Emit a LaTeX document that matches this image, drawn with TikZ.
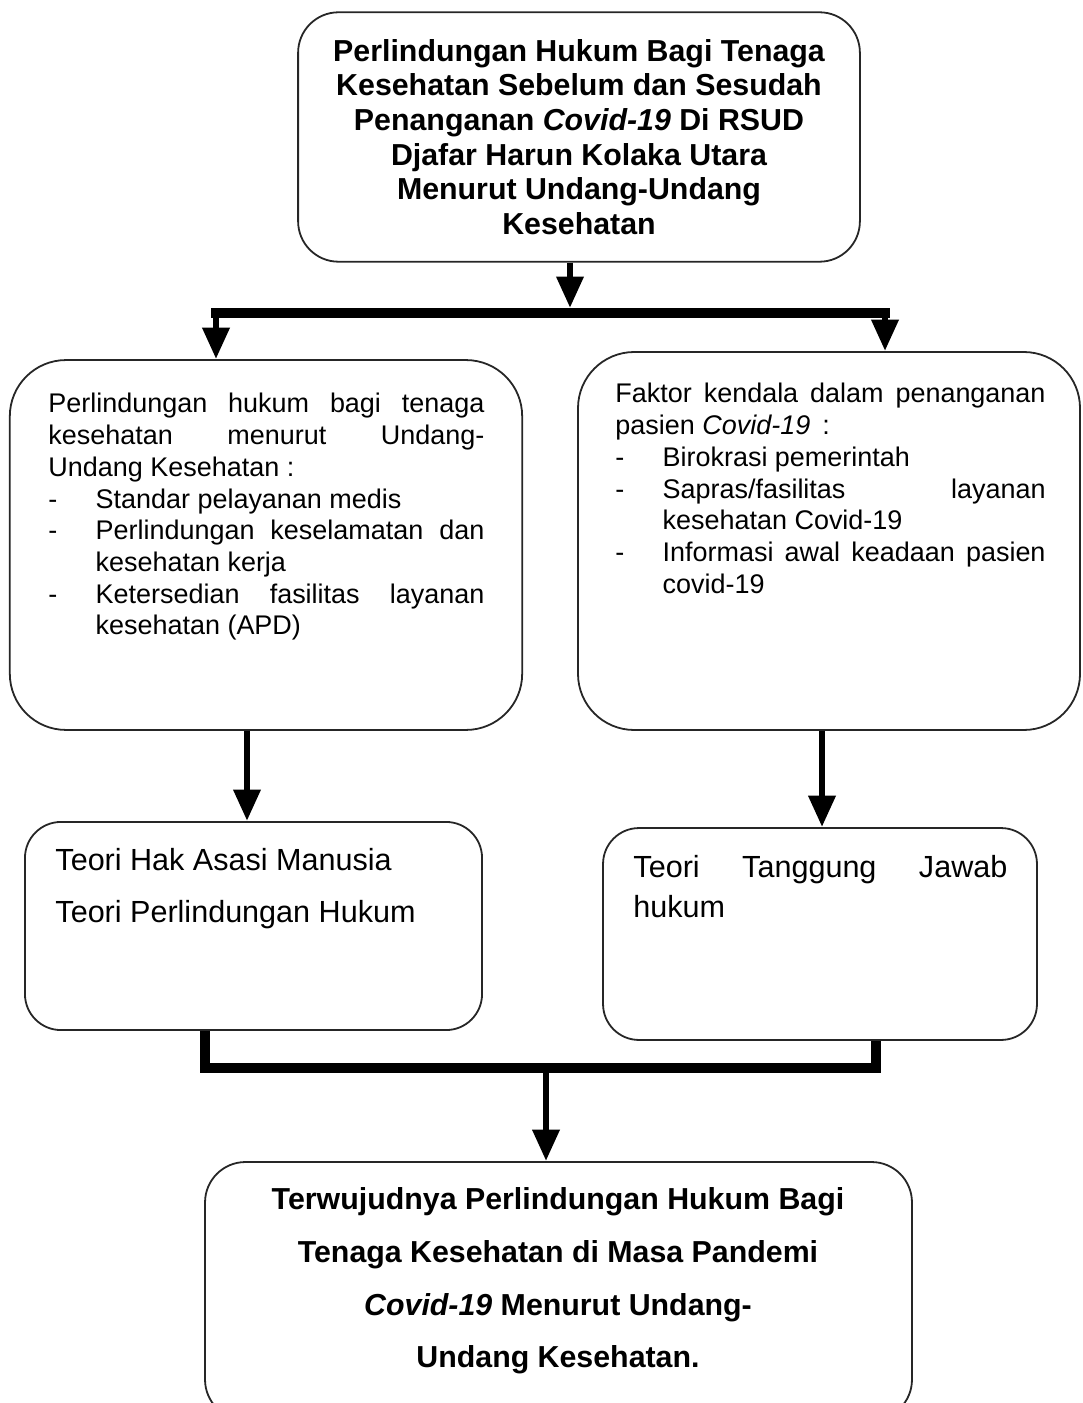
\documentclass[tikz,border=0pt]{standalone}
\usepackage{fontspec}
\setmainfont{Liberation Sans}
\usetikzlibrary{arrows.meta}
\hbadness=10000

\newcommand{\dashitem}[1]{\par\hangindent=21pt\hangafter=1\noindent\makebox[21pt][l]{-}#1\par}

\tikzset{
  box/.style={draw=black!85, line width=0.8pt, rounded corners=#1, inner sep=0pt},
  box/.default=18pt,
  bodytext/.style={inner sep=0pt, anchor=north west, align=justify,
    font=\fontsize{12pt}{14.1pt}\selectfont},
  bar/.style={line width=4.6pt, line cap=rect, line join=miter},
  flow/.style={line width=3.1pt, -{Triangle[length=14pt, width=11.5pt]}}
}

\begin{document}
\begin{tikzpicture}[x=0.445pt, y=-0.445pt]
    \useasboundingbox (0,0) rectangle (1082,1403);
    \clip (0,0) rectangle (1082,1403);

    % Boxes
    \node[box=18pt, minimum width=250pt, minimum height=111pt] (judul) at (579,137) {};
    \node[box=25pt, minimum width=228pt, minimum height=164.6pt] (hukum) at (266,545) {};
    \node[box=25pt, minimum width=223.4pt, minimum height=168.2pt] (kendala) at (829,541) {};
    \node[box=16pt, minimum width=203.4pt, minimum height=92.6pt] (teorikiri) at (253.5,926) {};
    \node[box=16pt, minimum width=193.1pt, minimum height=94.3pt] (teorikanan) at (820,934) {};
    \node[box=18pt, minimum width=314.6pt, minimum height=114.8pt] (hasil) at (558.5,1291) {};

    % Texts
    \node[inner sep=0pt, align=center, font=\bfseries\fontsize{13.5pt}{15.4pt}\selectfont] (judultxt) at (judul.center)
        {Perlindungan Hukum Bagi Tenaga\\Kesehatan Sebelum dan Sesudah\\
         Penanganan \textit{Covid-19} Di RSUD\\Djafar Harun Kolaka Utara\\
         Menurut Undang-Undang\\Kesehatan};

    \node[bodytext, text width=194pt] (hukumtxt) at (48,393)
        {\noindent Perlindungan hukum bagi tenaga\linebreak kesehatan menurut Undang-\linebreak Undang Kesehatan :
         \dashitem{Standar pelayanan medis}
         \dashitem{Perlindungan keselamatan dan\linebreak kesehatan kerja}
         \dashitem{Ketersedian fasilitas layanan\linebreak kesehatan (APD)}};

    \node[bodytext, text width=191.4pt] (kendalatxt) at (615,383)
        {\noindent Faktor kendala dalam penanganan\linebreak pasien \textit{Covid-19}\, :
         \dashitem{Birokrasi pemerintah}
         \dashitem{Sapras/fasilitas layanan\linebreak kesehatan Covid-19}
         \dashitem{Informasi awal keadaan pasien\linebreak covid-19}};

    \node[inner sep=0pt, anchor=north west, align=left, font=\fontsize{13.6pt}{23.2pt}\selectfont] (teorikiritxt) at (55,848)
        {Teori Hak Asasi Manusia\\Teori Perlindungan Hukum};

    \node[bodytext, text width=166.4pt, font=\fontsize{13.6pt}{17.8pt}\selectfont] (teorikanantxt) at (633,855)
        {\noindent Teori Tanggung Jawab\linebreak hukum\par};

    \node[inner sep=0pt, align=center, font=\bfseries\fontsize{13.5pt}{23.4pt}\selectfont] (hasiltxt) at (558,1281)
        {Terwujudnya Perlindungan Hukum Bagi\\Tenaga Kesehatan di Masa Pandemi\\
         \textit{Covid-19} Menurut Undang-\\Undang Kesehatan.};

    % Connectors
    \coordinate (pisah) at (570,313);
    \coordinate (pisahkiri) at (216,313);
    \coordinate (pisahkanan) at (885,313);
    \coordinate (kolomkiri) at (247,780);
    \coordinate (kolomkanan) at (822,780);
    \coordinate (gabungkiri) at (205,1068);
    \coordinate (gabungkanan) at (876,1068);
    \coordinate (gabung) at (546,1068);

    \draw[flow] (judul.south -| pisah) -- ([yshift=2.2pt]pisah);
    \draw[bar] (pisahkiri) -- (pisahkanan);
    \draw[flow] (pisahkiri) -- (pisahkiri |- hukum.north);
    \draw[flow] (pisahkanan) -- (pisahkanan |- kendala.north);

    \draw[flow] (hukum.south -| kolomkiri) -- (teorikiri.north -| kolomkiri);
    \draw[flow] (kendala.south -| kolomkanan) -- (teorikanan.north -| kolomkanan);

    \draw[bar, line cap=butt] (teorikiri.south -| gabungkiri) -- (gabungkiri) -- (gabungkanan) -- (teorikanan.south -| gabungkanan);
    \draw[flow] (gabung) -- (hasil.north -| gabung);
\end{tikzpicture}
\end{document}
